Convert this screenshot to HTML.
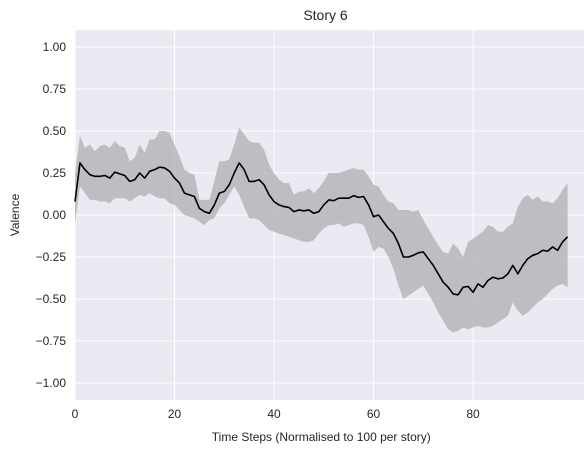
<!DOCTYPE html>
<html><head><meta charset="utf-8"><style>
body{margin:0;background:#fff;}
svg{display:block;font-family:"Liberation Sans",sans-serif;}
</style></head><body>
<svg id="chart" width="584" height="453"></svg>
<script>
const steps = Array.from({length:100},(_,i)=>i);
const meanValues = [0.08,0.31,0.27,0.24,0.23,0.23,0.235,0.22,0.255,0.245,0.235,0.2,0.21,0.25,0.22,0.26,0.27,0.285,0.28,0.26,0.22,0.19,0.13,0.12,0.11,0.04,0.02,0.01,0.06,0.13,0.14,0.18,0.25,0.31,0.27,0.2,0.2,0.21,0.18,0.12,0.08,0.06,0.05,0.045,0.02,0.03,0.025,0.03,0.01,0.02,0.06,0.09,0.085,0.1,0.1,0.1,0.115,0.105,0.11,0.06,-0.01,0.0,-0.04,-0.08,-0.11,-0.17,-0.25,-0.25,-0.24,-0.225,-0.22,-0.26,-0.3,-0.35,-0.4,-0.43,-0.47,-0.475,-0.43,-0.425,-0.46,-0.41,-0.43,-0.39,-0.37,-0.38,-0.375,-0.35,-0.3,-0.35,-0.3,-0.26,-0.24,-0.23,-0.21,-0.215,-0.19,-0.21,-0.16,-0.13];
const upperValues = [0.25,0.47,0.4,0.42,0.38,0.41,0.42,0.4,0.44,0.41,0.4,0.32,0.34,0.42,0.37,0.45,0.45,0.5,0.5,0.49,0.42,0.35,0.27,0.25,0.24,0.09,0.09,0.09,0.2,0.32,0.32,0.33,0.42,0.52,0.48,0.44,0.43,0.43,0.39,0.3,0.25,0.21,0.19,0.19,0.12,0.14,0.14,0.16,0.13,0.16,0.2,0.25,0.25,0.25,0.26,0.27,0.28,0.27,0.27,0.23,0.18,0.17,0.12,0.08,0.07,0.03,0.03,0.03,0.02,0.03,-0.03,-0.08,-0.13,-0.18,-0.22,-0.23,-0.17,-0.2,-0.25,-0.16,-0.14,-0.12,-0.1,-0.06,-0.07,-0.1,-0.1,-0.07,-0.05,0.05,0.1,0.12,0.09,0.11,0.08,0.08,0.07,0.1,0.15,0.19];
const lowerValues = [-0.05,0.17,0.13,0.09,0.09,0.08,0.08,0.07,0.1,0.1,0.1,0.08,0.1,0.12,0.11,0.13,0.11,0.1,0.1,0.07,0.06,0.03,0.0,-0.01,-0.02,-0.04,-0.06,-0.03,-0.02,0.04,0.07,0.12,0.17,0.12,0.05,-0.02,-0.02,-0.03,-0.06,-0.09,-0.1,-0.11,-0.12,-0.13,-0.14,-0.15,-0.16,-0.16,-0.15,-0.11,-0.08,-0.06,-0.06,-0.05,-0.07,-0.06,-0.05,-0.05,-0.06,-0.13,-0.22,-0.19,-0.2,-0.25,-0.32,-0.42,-0.5,-0.48,-0.46,-0.44,-0.42,-0.47,-0.52,-0.58,-0.63,-0.68,-0.7,-0.69,-0.67,-0.68,-0.67,-0.66,-0.67,-0.67,-0.66,-0.64,-0.62,-0.6,-0.52,-0.57,-0.6,-0.58,-0.55,-0.52,-0.5,-0.47,-0.44,-0.42,-0.41,-0.43];
const yTickLabels = ["1.00","0.75","0.50","0.25","0.00","−0.25","−0.50","−0.75","−1.00"];
const yTickValues = [1,0.75,0.5,0.25,0,-0.25,-0.5,-0.75,-1];
const xTickValues = [0,20,40,60,80];

const NS="http://www.w3.org/2000/svg";
const svg=document.getElementById('chart');
const L=75,R=584,T=30,B=400;
const xs=v=>L+(v/102.3)*(R-L);
const ys=v=>215-v*168;
function mk(tag,attrs,parent){const e=document.createElementNS(NS,tag);for(const k in attrs)e.setAttribute(k,attrs[k]);(parent||svg).appendChild(e);return e;}

const bg=mk('rect',{x:L,y:T,width:R-L,height:B-T,fill:'#eaeaf2'});



xTickValues.forEach(v=>{
  const g=mk('line',{x1:xs(v),x2:xs(v),y1:T,y2:B,stroke:'#fff','stroke-width':1});
  
  
  const t=mk('text',{x:xs(v),y:B+18,'text-anchor':'middle','font-size':12,fill:'#262626'});
  t.textContent=v;
  
  
});
yTickValues.forEach((v,i)=>{
  const g=mk('line',{x1:L,x2:R,y1:ys(v),y2:ys(v),stroke:'#fff','stroke-width':1});
  
  
  const t=mk('text',{x:L-9,y:ys(v)+4,'text-anchor':'end','font-size':12,fill:'#262626'});
  t.textContent=yTickLabels[i];
  
  
});

let d='';
steps.forEach((s,i)=>{d+=(i?'L':'M')+xs(s)+','+ys(upperValues[i]);});
for(let i=steps.length-1;i>=0;i--)d+='L'+xs(steps[i])+','+ys(lowerValues[i]);
const band=mk('path',{d:d+'Z',fill:'#a9a9ae','fill-opacity':0.7,stroke:'none'});



let ld='';
steps.forEach((s,i)=>{ld+=(i?'L':'M')+xs(s)+','+ys(meanValues[i]);});
const line=mk('path',{d:ld,fill:'none',stroke:'#000','stroke-width':1.6,'stroke-linejoin':'round'});



const title=mk('text',{x:(L+R)/2-4,y:20,'text-anchor':'middle','font-size':14,fill:'#262626'});
title.textContent='Story 6';


const xl=mk('text',{x:xs(49.5),y:441,'text-anchor':'middle','font-size':12,fill:'#262626'});
xl.textContent='Time Steps (Normalised to 100 per story)';


const yl=mk('text',{x:19,y:215,'text-anchor':'middle','font-size':12,fill:'#262626',transform:'rotate(-90 19 215)'});
yl.textContent='Valence';


</script>
</body></html>
